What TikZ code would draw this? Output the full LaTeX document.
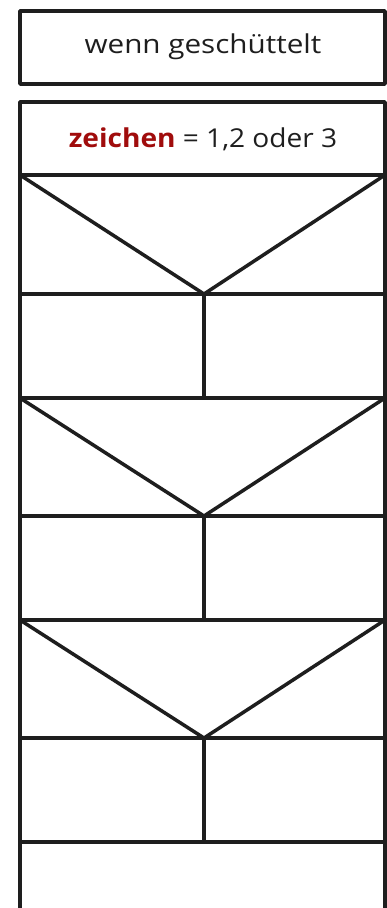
\documentclass[tikz,border=0pt]{standalone}
\usepackage{fontspec}
\setmainfont{Open Sans}
\definecolor{ink}{HTML}{1E1E1E}
\definecolor{kw}{HTML}{A00C0C}
\begin{document}
\begin{tikzpicture}[x=1pt,y=-1pt,
  sk/.style={draw=ink,line width=3.5pt,line cap=round,line join=round},
  lbl/.style={font=\fontsize{26}{30}\selectfont,text=ink,inner sep=0pt,transform shape}]
\useasboundingbox (0,0) rectangle (387,908);
% top box
\draw[sk] (20,11) rectangle (385,84);
\node[lbl,xscale=1.14] (t1) at (203,47) {wenn geschüttelt};
% main block outer edges
\draw[sk] (20,908) -- (20,102) -- (385,102) -- (385,908);
\node[lbl,xscale=1.08] (t2) at (203,139) {\textcolor{kw}{\textbf{zeichen}} = 1,2 oder 3};
\draw[sk] (20,175) -- (385,175);
% decision 1
\draw[sk] (20,175) -- (204,294) -- (385,175);
\draw[sk] (20,294) -- (385,294);
\draw[sk] (204,294) -- (204,398);
\draw[sk] (20,398) -- (385,398);
% decision 2
\draw[sk] (20,398) -- (204,516) -- (385,398);
\draw[sk] (20,516) -- (385,516);
\draw[sk] (204,516) -- (204,620);
\draw[sk] (20,620) -- (385,620);
% decision 3
\draw[sk] (20,620) -- (204,738) -- (385,620);
\draw[sk] (20,738) -- (385,738);
\draw[sk] (204,738) -- (204,842);
\draw[sk] (20,842) -- (385,842);
\end{tikzpicture}
\end{document}
